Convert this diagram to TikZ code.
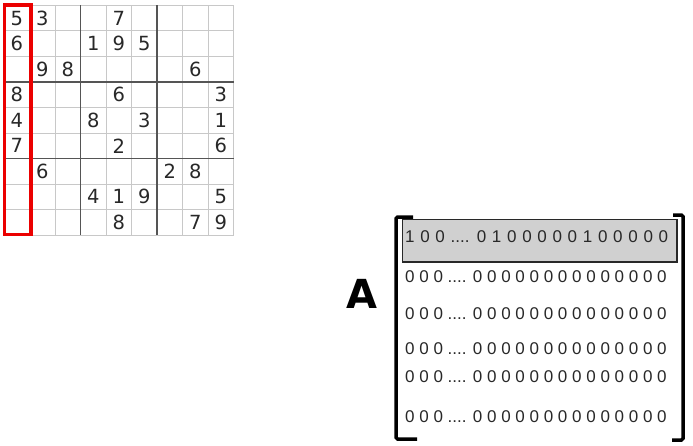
\documentclass[tikz,border=0pt]{standalone}
\usepackage{fontspec}
\setmainfont{DejaVu Sans}
\newfontfamily\rowfont{Liberation Sans}
\definecolor{gridgray}{RGB}{200,200,200}
\definecolor{blockgray}{RGB}{85,85,85}
\definecolor{rowgray}{RGB}{208,208,208}
\definecolor{markred}{RGB}{235,0,0}
\definecolor{inkgray}{RGB}{40,40,40}
\tikzstyle{thinline}=[draw=gridgray,line width=0.9pt]
\tikzstyle{blockline}=[draw=blockgray,line width=1.3pt]
\tikzstyle{cell}=[inner sep=0pt,text=inkgray,font=\fontsize{19.5}{19.5}\selectfont]
\tikzstyle{colmark}=[draw=markred,line width=3.6pt]
\tikzstyle{matrixrow}=[anchor=west,inner sep=0pt,text=inkgray,font=\rowfont\fontsize{17}{17}\selectfont]
\tikzstyle{hitrow}=[draw=inkgray,fill=rowgray,line width=1.6pt]
\tikzstyle{bracket}=[line width=3.5pt,rounded corners=1.5pt]
\tikzstyle{matrixname}=[font=\bfseries\fontsize{40}{40}\selectfont]

\begin{document}
\begin{tikzpicture}[x=1pt,y=-1pt]

\useasboundingbox (0,0) rectangle (693,445);

% sudoku grid
\foreach \i in {0,...,9}{
  \draw[thinline] (4+25.5*\i,5.4) -- (4+25.5*\i,235);
  \draw[thinline] (4,5.4+25.51*\i) -- (233.5,5.4+25.51*\i);
}
\foreach \i in {3,6}{
  \draw[blockline] (4+25.5*\i,5.4) -- (4+25.5*\i,235);
  \draw[blockline] (4,5.4+25.51*\i) -- (233.5,5.4+25.51*\i);
}

\foreach \r/\c/\d in {1/1/5,1/2/3,1/5/7,
                      2/1/6,2/4/1,2/5/9,2/6/5,
                      3/2/9,3/3/8,3/8/6,
                      4/1/8,4/5/6,4/9/3,
                      5/1/4,5/4/8,5/6/3,5/9/1,
                      6/1/7,6/5/2,6/9/6,
                      7/2/6,7/7/2,7/8/8,
                      8/4/4,8/5/1,8/6/9,8/9/5,
                      9/5/8,9/8/7,9/9/9}
  \node[cell] (d\r\c) at (4+25.5*\c-12.75,5.4+25.51*\r-12.6) {\d};

\draw[colmark] (4.5,5) rectangle (31,234.5);

% constraint matrix
\node[hitrow,minimum width=274.5pt,minimum height=42.5pt,anchor=north west] (hit) at (401.5,218.5) {};
\node[matrixrow] (r1) at (405,236.5) {\spaceskip=5.7pt 1 0 0 .... 0 1 0 0 0 0 0 1 0 0 0 0 0};
\node[matrixrow] (r2) at (405,276.5) {0 0 0 .... 0 0 0 0 0 0 0 0 0 0 0 0 0 0};
\node[matrixrow] (r3) at (405,313.5) {0 0 0 .... 0 0 0 0 0 0 0 0 0 0 0 0 0 0};
\node[matrixrow] (r4) at (405,348.5) {0 0 0 .... 0 0 0 0 0 0 0 0 0 0 0 0 0 0};
\node[matrixrow] (r5) at (405,376.5) {0 0 0 .... 0 0 0 0 0 0 0 0 0 0 0 0 0 0};
\node[matrixrow] (r6) at (405,416.5) {0 0 0 .... 0 0 0 0 0 0 0 0 0 0 0 0 0 0};

\draw[bracket] (413,217) -- (396,217) -- (396,439) -- (417,439);
\draw[bracket] (673,215) -- (683,215) -- (683,440) -- (672,440);

\node[matrixname] (A) at (362,293.5) {A};

\end{tikzpicture}
\end{document}
